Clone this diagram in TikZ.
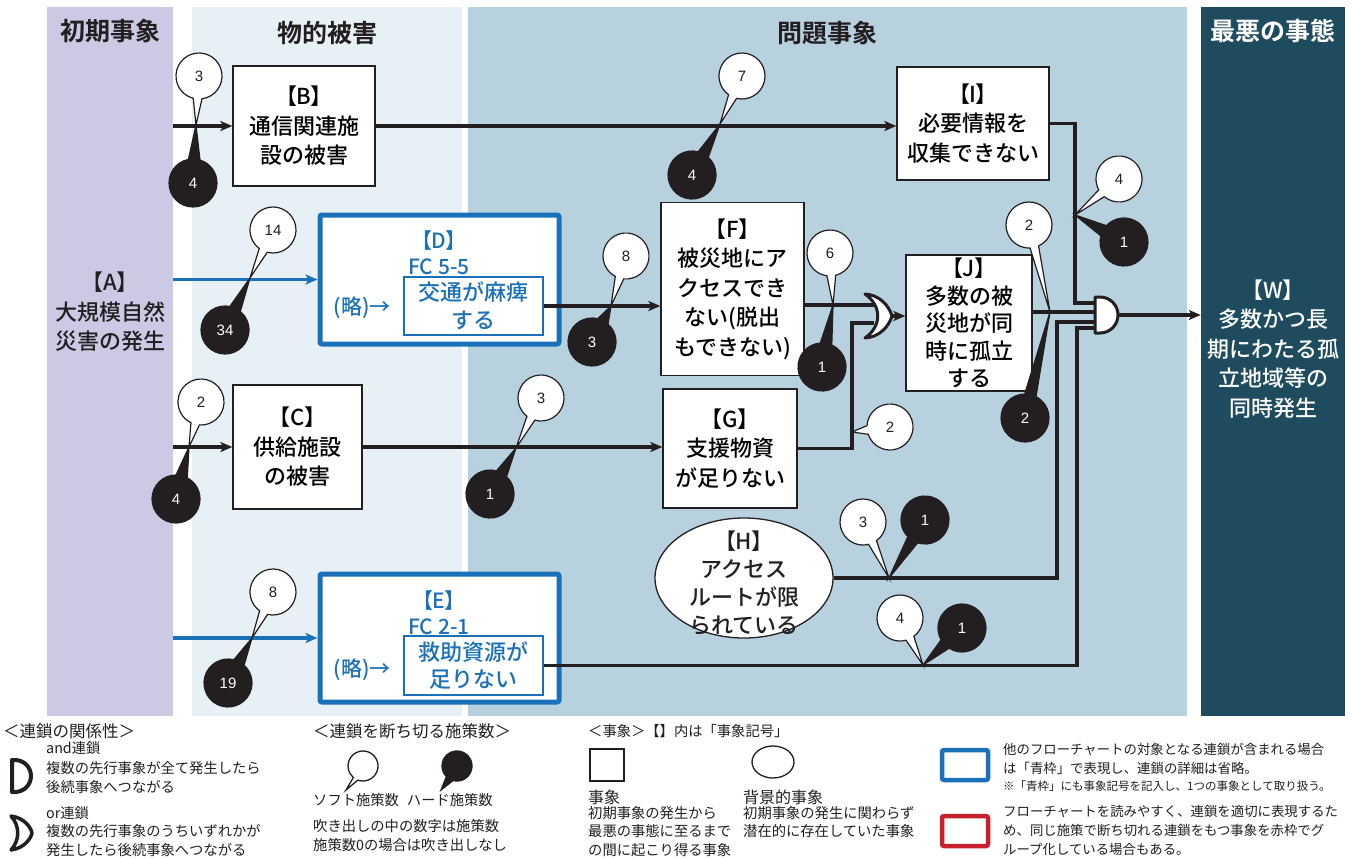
\documentclass[tikz,border=0pt]{standalone}
\usepackage{fontspec}
\setmainfont{Noto Sans CJK JP}[BoldFont={Noto Sans CJK JP Bold}]
\newfontfamily\jpm{Noto Sans CJK JP Medium}
\newfontfamily\jpmp{Noto Sans CJK JP Medium}[RawFeature=+palt]
\newfontfamily\numfont{Liberation Sans}
\usetikzlibrary{arrows.meta,calc,shapes.geometric}
\definecolor{ink}{RGB}{35,31,32}
\definecolor{panA}{RGB}{204,201,229}
\definecolor{panB}{RGB}{231,240,244}
\definecolor{panC}{RGB}{184,209,222}
\definecolor{panD}{RGB}{30,75,93}
\definecolor{blueF}{RGB}{27,113,185}
\definecolor{redF}{RGB}{200,32,44}
\newcommand\lbl[1]{{\jpmp 【#1】}}
\newcommand\balW[4]{%
 \path[draw=ink, fill=white, line width=1.2pt] let \p1=($(#3)-(#2)$), \n1={atan2(\y1,\x1)} in
   ($(#2)+(\n1+11:23)$) arc[start angle=\n1+11, delta angle=338, radius=23] -- (#3) -- cycle;
 \node[numw] (#1) at (#2) {#4};}
\newcommand\balB[4]{%
 \path[draw=ink, fill=ink, line width=1.2pt] let \p1=($(#3)-(#2)$), \n1={atan2(\y1,\x1)} in
   ($(#2)+(\n1+14:24)$) arc[start angle=\n1+14, delta angle=332, radius=24] -- (#3) -- cycle;
 \node[numb] (#1) at (#2) {#4};}
\begin{document}
\begin{tikzpicture}[x=1pt,y=1pt,
  line/.style={draw=ink, line width=3.5pt},
  conn/.style={line, -{Stealth[length=12pt,width=10pt,inset=3pt]}},
  blueconn/.style={draw=blueF, line width=3.5pt, -{Stealth[length=12pt,width=10pt,inset=3pt]}},
  box/.style={draw=ink, line width=1.3pt, fill=white, inner sep=0pt, align=center, font=\jpm\fontsize{22}{29.5}\selectfont},
  bluebox/.style={draw=blueF, line width=5pt, fill=white, rounded corners=2pt, inner sep=0pt},
  bluein/.style={draw=blueF, line width=1.3pt, fill=white, inner sep=0pt, align=center, text=blueF, font=\jpm\fontsize{22}{28}\selectfont},
  bluetxt/.style={inner sep=0pt, align=center, text=blueF, font=\jpm\fontsize{21}{26}\selectfont},
  txt/.style={inner sep=0pt, align=center, font=\jpm\fontsize{22}{29.5}\selectfont},
  hdr/.style={inner sep=0pt, font=\fontsize{25}{30}\selectfont\bfseries},
  gate/.style={draw=ink, line width=3pt, fill=white, line join=round},
  numw/.style={inner sep=0pt, font=\numfont\fontsize{15}{17}\selectfont, text=ink},
  numb/.style={inner sep=0pt, font=\numfont\fontsize{15}{17}\selectfont, text=white},
  lgA/.style={inner sep=0pt, anchor=west, align=left, font=\fontsize{16.5}{20}\selectfont, text=ink},
  lgB/.style={inner sep=0pt, anchor=west, align=left, font=\fontsize{14.3}{19}\selectfont, text=ink},
  lgC/.style={inner sep=0pt, anchor=west, align=left, font=\fontsize{13.4}{19}\selectfont, text=ink},
  lgD/.style={inner sep=0pt, anchor=west, align=left, font=\fontsize{11.5}{14}\selectfont, text=ink}
]
\useasboundingbox (0,0) rectangle (1352,-859);
\fill[white] (0,0) rectangle (1352,-859);
% panels
\fill[panA] (47,-7) rectangle (173,-716);
\fill[panB] (192,-7) rectangle (462,-716);
\fill[panC] (468,-7) rectangle (1187,-716);
\fill[panD] (1201,-7) rectangle (1345,-716);
% headers
\node[hdr, text=ink] (h1) at (110,-31) {初期事象};
\node[hdr, text=ink] (h2) at (327,-33) {物的被害};
\node[hdr, text=ink] (h3) at (827,-33) {問題事象};
\node[hdr, text=white] (h4) at (1273,-31) {最悪の事態};
% text-only nodes
\node[txt, text=ink, minimum width=126pt] (A) at (110,-312) {\lbl{A}\\大規模自然\\災害の発生};
\node[txt, text=white, minimum width=144pt] (W) at (1273,-349) {\lbl{W}\\多数かつ長\\期にわたる孤\\立地域等の\\同時発生};
% coordinates of the gates
\coordinate (orF) at (874,-305);
\coordinate (orG) at (874,-323);
\coordinate (orOut) at (890,-316);
\coordinate (andI) at (1097,-303);
\coordinate (andJ) at (1097,-312);
\coordinate (andH) at (1097,-322);
\coordinate (andE) at (1097,-328);
\coordinate (andOut) at (1117,-315);
\coordinate (cI) at (1075,-303);
\coordinate (cG) at (852,-323);
\coordinate (cH) at (1057,-322);
\coordinate (cE) at (1077,-328);
% boxes
\node[box, minimum width=142pt, minimum height=120pt] (B) at (304,-126) {\lbl{B}\\通信関連施\\設の被害};
\node[box, minimum width=152pt, minimum height=113pt] (I) at (973,-123.5) {\lbl{I}\\必要情報を\\収集できない};
\node[bluebox, minimum width=239pt, minimum height=129pt] (D) at (439.5,-279.5) {};
\node[box, minimum width=143pt, minimum height=173pt] (F) at (732.5,-289) {\lbl{F}\\被災地にア\\クセスでき\\ない(脱出\\もできない)};
\node[box, minimum width=126pt, minimum height=136pt, font=\jpm\fontsize{22}{27.5}\selectfont] (J) at (969,-323) {\lbl{J}\\多数の被\\災地が同\\時に孤立\\する};
\node[box, minimum width=129pt, minimum height=124pt] (C) at (297.5,-447) {\lbl{C}\\供給施設\\の被害};
\node[box, minimum width=134pt, minimum height=119pt] (G) at (730,-448.5) {\lbl{G}\\支援物資\\が足りない};
\node[draw=ink, line width=1.3pt, fill=white, ellipse, inner sep=0pt, minimum width=178pt, minimum height=120pt] (H) at (744,-578) {};
\node[bluebox, minimum width=239pt, minimum height=128pt] (E) at (439.5,-638) {};
% connectors
\draw[conn] (A.east |- B.west) -- (B.west);
\draw[conn] (B.east) -- (B.east -| I.west);
\draw[blueconn] (A.east |- D.west) -- (D.west);
\draw[conn] (A.east |- C.west) -- (C.west);
\draw[conn] (C.east) -- (C.east -| G.west);
\draw[blueconn] (A.east |- E.west) -- (E.west);
% D and E contents
\node[bluetxt] (Dl) at (439,-253) {\lbl{D}\\FC 5-5};
\node[bluetxt] (Dr) at (362,-308) {(略)→};
\node[bluein, minimum width=139pt, minimum height=58pt] (Din) at (473.5,-306) {交通が麻痺\\する};
\node[bluetxt] (El) at (439,-613) {\lbl{E}\\FC 2-1};
\node[bluetxt] (Er) at (362,-670) {(略)→};
\node[bluein, minimum width=139pt, minimum height=59pt] (Ein) at (473.5,-665.5) {救助資源が\\足りない};
\node[txt, text=ink, font=\jpm\fontsize{22}{28}\selectfont] (Ht) at (744,-583) {\lbl{H}\\アクセス\\ルートが限\\られている};
\draw[conn] (Din.east) -- (Din.east -| F.west);
\draw[line] (F.east |- orF) -- (orF);
\draw[line] (G.east) -| (cG) -- (orG);
\draw[conn] (orOut) -- (orOut -| J.west);
\draw[line] (I.east) -| (cI) -- (andI);
\draw[line] (J.east |- andJ) -- (andJ);
\draw[line] (H.east) -| (cH) -- (andH);
\draw[line] (Ein.east) -| (cE) -- (andE);
\draw[conn] (andOut) -- (andOut -| W.west);
% gates
\draw[gate] (865,-294) .. controls (880,-295) and (889,-306) .. (892,-316) .. controls (889,-326) and (880,-337) .. (865,-338) .. controls (882,-326) and (882,-306) .. (865,-294) -- cycle;
\draw[gate] (1095,-297) -- (1100,-297) arc[start angle=90, end angle=-90, radius=18] -- (1095,-333) -- cycle;
% balloons
\balW{w1}{199,-76}{196,-125}{3}
\balB{b1}{193,-183}{196,-125}{4}
\balW{w2}{742,-76}{720,-124}{7}
\balB{b2}{692,-175}{720,-124}{4}
\balW{w3}{273,-230}{250,-278}{14}
\balB{b3}{225,-330}{250,-278}{34}
\balW{w4}{626,-256}{611,-306}{8}
\balB{b4}{592,-342}{611,-306}{3}
\balW{w5}{830,-253}{833,-305}{6}
\balB{b5}{822,-367}{833,-305}{1}
\balW{w6}{1029,-225}{1050,-312}{2}
\balB{b6}{1025,-418}{1050,-312}{2}
\balW{w7}{1119,-179}{1075,-215}{4}
\balB{b7}{1124,-242}{1075,-215}{1}
\balW{w8}{201,-402}{189,-447}{2}
\balB{b8}{176,-499}{189,-447}{4}
\balW{w9}{541,-398}{516,-448}{3}
\balB{b9}{490,-494}{516,-448}{1}
\balW{w10}{890,-427}{852,-432}{2}
\balW{w11}{863,-522}{889,-578}{3}
\balB{b11}{925,-520}{889,-578}{1}
\balW{w12}{900,-618}{923,-665}{4}
\balB{b12}{962,-628}{923,-665}{1}
\balW{w13}{273,-592}{252,-638}{8}
\balB{b13}{228,-683}{252,-638}{19}
% ---------------- legend ----------------
\node[lgA] (L1) at (3,-731) {＜連鎖の関係性＞};
\node[lgB] (L2) at (46,-748) {and連鎖};
\node[lgB] (L3) at (46,-778) {複数の先行事象が全て発生したら\\後続事象へつながる};
\node[lgB] (L4) at (46,-813) {or連鎖};
\node[lgB] (L5) at (46,-841) {複数の先行事象のうちいずれかが\\発生したら後続事象へつながる};
\draw[gate, line width=4pt] (12,-760) -- (15,-760) arc[start angle=90, end angle=-90, radius=16] -- (12,-792) -- cycle;
\draw[gate, line width=3.5pt] (11,-816) .. controls (25,-818) and (31,-828) .. (32,-833) .. controls (31,-838) and (25,-848) .. (11,-850) .. controls (20,-840) and (20,-826) .. (11,-816) -- cycle;
\node[lgA] (M1) at (313,-731) {＜連鎖を断ち切る施策数＞};
\path[draw=ink, fill=white, line width=1.3pt] (363,-766) ++(-110:15) arc[start angle=-110, delta angle=340, radius=15] -- (346,-790) -- cycle;
\path[draw=ink, fill=ink, line width=1.3pt] (457,-766) ++(-105:15) arc[start angle=-105, delta angle=330, radius=15] -- (441,-790) -- cycle;
\node[lgB] (M2) at (313,-800) {ソフト施策数\hspace{8pt}ハード施策数};
\node[lgB] (M3) at (313,-836) {吹き出しの中の数字は施策数\\施策数0の場合は吹き出しなし};
\node[lgB] (R1) at (588,-731) {＜事象＞【】内は「事象記号」};
\node[draw=ink, line width=1.3pt, minimum width=34pt, minimum height=32pt, inner sep=0pt] (Lsq) at (607,-765) {};
\node[draw=ink, line width=1.3pt, ellipse, minimum width=42pt, minimum height=32pt, inner sep=0pt] (Lel) at (773,-762) {};
\node[lgA, font=\fontsize{16}{20}\selectfont] (R2) at (588,-797) {事象};
\node[lgB, anchor=north west, font=\fontsize{14.3}{18.5}\selectfont] (R3) at (588,-806) {初期事象の発生から\\最悪の事態に至るまで\\の間に起こり得る事象};
\node[lgA, font=\fontsize{16}{20}\selectfont] (R4) at (743,-797) {背景的事象};
\node[lgB, anchor=north west, font=\fontsize{14.3}{18.5}\selectfont] (R5) at (743,-806) {初期事象の発生に関わらず\\潜在的に存在していた事象};
\node[draw=blueF, line width=4.5pt, rounded corners=2pt, minimum width=46pt, minimum height=30pt, inner sep=0pt] (Lb) at (965,-765) {};
\node[draw=redF, line width=4.5pt, rounded corners=2pt, minimum width=46pt, minimum height=30pt, inner sep=0pt] (Lr) at (965,-831) {};
\node[lgC] (T1) at (1003,-749) {他のフローチャートの対象となる連鎖が含まれる場合};
\node[lgC] (T2) at (1003,-768) {は「青枠」で表現し、連鎖の詳細は省略。};
\node[lgD] (T3) at (1003,-786) {※「青枠」にも事象記号を記入し、1つの事象として取り扱う。};
\node[lgC] (T4) at (1003,-811) {フローチャートを読みやすく、連鎖を適切に表現するた};
\node[lgC] (T5) at (1003,-830) {め、同じ施策で断ち切れる連鎖をもつ事象を赤枠でグ};
\node[lgC] (T6) at (1003,-849) {ループ化している場合もある。};
\end{tikzpicture}
\end{document}
